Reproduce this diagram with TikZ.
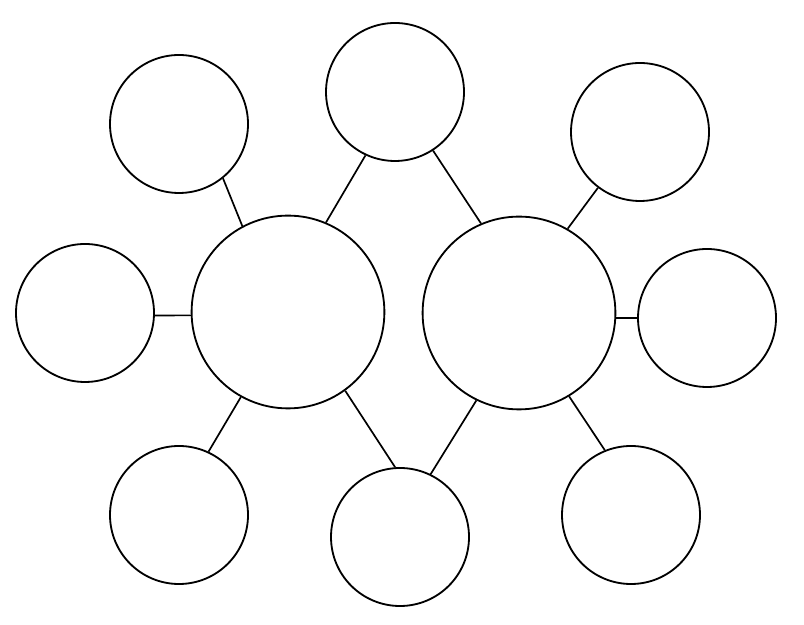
\documentclass[tikz,border=0pt]{standalone}
\usepackage{tikz}
\usetikzlibrary{positioning}

\begin{document}
\begin{tikzpicture}
          \tikzset{
            bigbubble/.style={draw=black, line width=1.3pt, circle, minimum size=4.82cm, inner sep=0pt},
            smallbubble/.style={draw=black, line width=1.3pt, circle, minimum size=3.45cm, inner sep=0pt},
            link/.style={draw=black, line width=1.2pt}
          }
          \useasboundingbox (0,0) rectangle (20.1,15.625);
          % Main topics
          \node[bigbubble] (mainL) at (7.2,7.825) {};
          \node[bigbubble] (mainR) at (12.975,7.8) {};
          % Shared attributes
          \node[smallbubble] (topC) at (9.875,13.325) {};
          \node[smallbubble] (botC) at (10.0,2.2) {};
          % Left attributes
          \node[smallbubble] (topL) at (4.475,12.525) {};
          \node[smallbubble] (midL) at (2.125,7.8) {};
          \node[smallbubble] (botL) at (4.475,2.75) {};
          % Right attributes
          \node[smallbubble] (topR) at (16.0,12.325) {};
          \node[smallbubble] (midR) at (17.675,7.675) {};
          \node[smallbubble] (botR) at (15.775,2.75) {};
          % Links
          \draw[link] (topL.-51) -- (mainL.118);
          \draw[link] (midL.-2) -- (mainL.182);
          \draw[link] (botL.65) -- (mainL.-119);
          \draw[link] (topC.-115) -- (mainL.67);
          \draw[link] (botC.94) -- (mainL.-54);
          \draw[link] (topC.-57) -- (mainR.113);
          \draw[link] (botC.64) -- (mainR.-116);
          \draw[link] (topR.-127) -- (mainR.60);
          \draw[link] (midR.180) -- (mainR.-3);
          \draw[link] (botR.112) -- (mainR.-59);
        \end{tikzpicture}
\end{document}
